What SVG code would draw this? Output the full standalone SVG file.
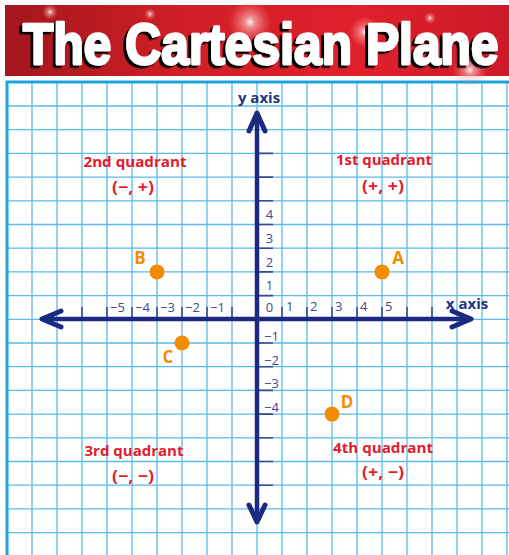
<svg xmlns="http://www.w3.org/2000/svg" width="509" height="555" viewBox="0 0 509 555">
<defs>
<linearGradient id="bannerGrad" x1="0" y1="0" x2="1" y2="0">
<stop offset="0" stop-color="#a3161c"/>
<stop offset="0.35" stop-color="#cf1f26"/>
<stop offset="0.7" stop-color="#e0202c"/>
<stop offset="1" stop-color="#cc1a28"/>
</linearGradient>
<radialGradient id="spark">
<stop offset="0" stop-color="#ffffff" stop-opacity="0.95"/>
<stop offset="0.25" stop-color="#ffd0d0" stop-opacity="0.6"/>
<stop offset="1" stop-color="#ff8080" stop-opacity="0"/>
</radialGradient>
<filter id="shadow" x="-5%" y="-20%" width="110%" height="140%">
<feDropShadow dx="-3.4" dy="2.5" stdDeviation="0.6" flood-color="#000000" flood-opacity="1"/>
</filter>
<style>
.grid{stroke:#5bbbe8;stroke-width:1.3;fill:none}
.border{stroke:#1ea3df;stroke-width:3;fill:none}
.axis{stroke:#1b2a80;stroke-width:4.5;fill:none}
.arrow{stroke:#1b2a80;stroke-width:5;fill:none;stroke-linecap:round;stroke-linejoin:round}
.tick{stroke:#3a4a92;stroke-width:1.6;fill:none}
.num{font-family:"Open Sans","DejaVu Sans",sans-serif;font-size:13px;fill:#3a4a92}
.axlab{font-family:"Open Sans","DejaVu Sans",sans-serif;font-size:15px;font-weight:bold;fill:#25347f}
.quad{font-family:"Open Sans","DejaVu Sans",sans-serif;font-size:14px;font-weight:bold;fill:#e31b2e}
.pair{font-family:"Open Sans","DejaVu Sans",sans-serif;font-size:16px;font-weight:bold;fill:#e31b2e}
.pt{fill:#f28c00}
.ptlab{font-family:"Open Sans","DejaVu Sans",sans-serif;font-size:17px;font-weight:bold;fill:#f28c00}
.title{font-family:"Liberation Sans","Arial",sans-serif;font-size:57px;font-weight:bold;fill:#ffffff;stroke:#ffffff;stroke-width:2.5;stroke-linejoin:round}
</style>
</defs>
<rect x="0" y="0" width="509" height="555" fill="#ffffff"/>
<g id="banner">
<rect x="5" y="5" width="504" height="71" fill="url(#bannerGrad)"/>
<circle cx="250" cy="22" r="22" fill="url(#spark)"/>
<circle cx="365" cy="32" r="16" fill="url(#spark)"/>
<circle cx="470" cy="70" r="18" fill="url(#spark)"/>
<circle cx="50" cy="12" r="8" fill="url(#spark)"/>
<circle cx="150" cy="14" r="6" fill="url(#spark)"/>
<circle cx="430" cy="18" r="6" fill="url(#spark)"/>
<g transform="translate(23,63.5) scale(0.873,1)">
<text class="title" x="0" y="0" filter="url(#shadow)">The Cartesian Plane</text>
</g>
</g>
<g id="grid">
<path class="grid" d="M32,81V555M57,81V555M82,81V555M107,81V555M132,81V555M157,81V555M182,81V555M207,81V555M232,81V555M257,81V555M282,81V555M307,81V555M332,81V555M357,81V555M382,81V555M407,81V555M432,81V555M457,81V555M482,81V555M507,81V555"/>
<path class="grid" d="M7,106H509M7,129.7H509M7,153.4H509M7,177.1H509M7,200.8H509M7,224.5H509M7,248.2H509M7,271.9H509M7,295.6H509M7,319.3H509M7,343H509M7,366.7H509M7,390.4H509M7,414.1H509M7,437.8H509M7,461.5H509M7,485.2H509M7,508.9H509M7,532.6H509"/>
<path class="border" d="M7,555V82H509"/>
</g>
<g id="connectors">
<path class="tick" d="M82,319V307M107,319V307M132,319V307M157,319V307M182,319V307M207,319V307M232,319V307M282,319V307M307,319V307M332,319V307M357,319V307M382,319V307M407,319V307M432,319V307"/>
<path class="tick" d="M257,153.4H273M257,177.1H273M257,200.8H273M257,224.5H273M257,248.2H273M257,271.9H273M257,295.6H273M257,343H273M257,366.7H273M257,390.4H273M257,414.1H273M257,437.8H273M257,461.5H273M257,485.2H273"/>
<line id="x-axis" class="axis" x1="42" y1="319" x2="471" y2="319"/>
<line id="y-axis" class="axis" x1="257" y1="114" x2="257" y2="521"/>
<polyline class="arrow" points="61,311 42,319 61,327"/>
<polyline class="arrow" points="452,311 471,319 452,327"/>
<polyline class="arrow" points="249,131 257,113 265,131"/>
<polyline class="arrow" points="249,505 257,522 265,505"/>
</g>
<g id="axis-labels">
<text class="axlab" x="259" y="103" text-anchor="middle">y axis</text>
<text class="axlab" x="467" y="309" text-anchor="middle">x axis</text>
</g>
<g id="x-numbers">
<text class="num" x="110" y="312">−5</text>
<text class="num" x="135" y="312">−4</text>
<text class="num" x="160" y="312">−3</text>
<text class="num" x="185" y="312">−2</text>
<text class="num" x="210" y="312">−1</text>
<text class="num" x="286" y="311">1</text>
<text class="num" x="310" y="311">2</text>
<text class="num" x="335" y="311">3</text>
<text class="num" x="360" y="311">4</text>
<text class="num" x="385" y="311">5</text>
</g>
<g id="y-numbers">
<text class="num" x="269.5" y="219" text-anchor="middle">4</text>
<text class="num" x="269.5" y="243" text-anchor="middle">3</text>
<text class="num" x="269.5" y="267" text-anchor="middle">2</text>
<text class="num" x="269.5" y="290" text-anchor="middle">1</text>
<text class="num" x="269.5" y="312" text-anchor="middle">0</text>
<text class="num" x="264" y="341">−1</text>
<text class="num" x="264" y="365">−2</text>
<text class="num" x="264" y="388">−3</text>
<text class="num" x="264" y="412">−4</text>
</g>
<g id="quadrant-1">
<text class="quad" x="384" y="165" text-anchor="middle" textLength="96" lengthAdjust="spacingAndGlyphs">1st quadrant</text>
<text class="pair" x="383" y="192" text-anchor="middle" textLength="42" lengthAdjust="spacingAndGlyphs">(+, +)</text>
</g>
<g id="quadrant-2">
<text class="quad" x="135" y="167" text-anchor="middle" textLength="103" lengthAdjust="spacingAndGlyphs">2nd quadrant</text>
<text class="pair" x="133" y="193" text-anchor="middle" textLength="42" lengthAdjust="spacingAndGlyphs">(−, +)</text>
</g>
<g id="quadrant-3">
<text class="quad" x="134" y="456" text-anchor="middle" textLength="99" lengthAdjust="spacingAndGlyphs">3rd quadrant</text>
<text class="pair" x="133" y="482" text-anchor="middle" textLength="42" lengthAdjust="spacingAndGlyphs">(−, −)</text>
</g>
<g id="quadrant-4">
<text class="quad" x="383" y="453" text-anchor="middle" textLength="100" lengthAdjust="spacingAndGlyphs">4th quadrant</text>
<text class="pair" x="383" y="478" text-anchor="middle" textLength="42" lengthAdjust="spacingAndGlyphs">(+, −)</text>
</g>
<g id="point-A">
<circle class="pt" cx="382" cy="271.9" r="7.5"/>
<text class="ptlab" x="398" y="264" text-anchor="middle">A</text>
</g>
<g id="point-B">
<circle class="pt" cx="157" cy="271.9" r="7.5"/>
<text class="ptlab" x="140" y="264" text-anchor="middle">B</text>
</g>
<g id="point-C">
<circle class="pt" cx="182" cy="343" r="7.5"/>
<text class="ptlab" x="168" y="363" text-anchor="middle">C</text>
</g>
<g id="point-D">
<circle class="pt" cx="332" cy="414.1" r="7.5"/>
<text class="ptlab" x="347" y="408" text-anchor="middle">D</text>
</g>
</svg>
